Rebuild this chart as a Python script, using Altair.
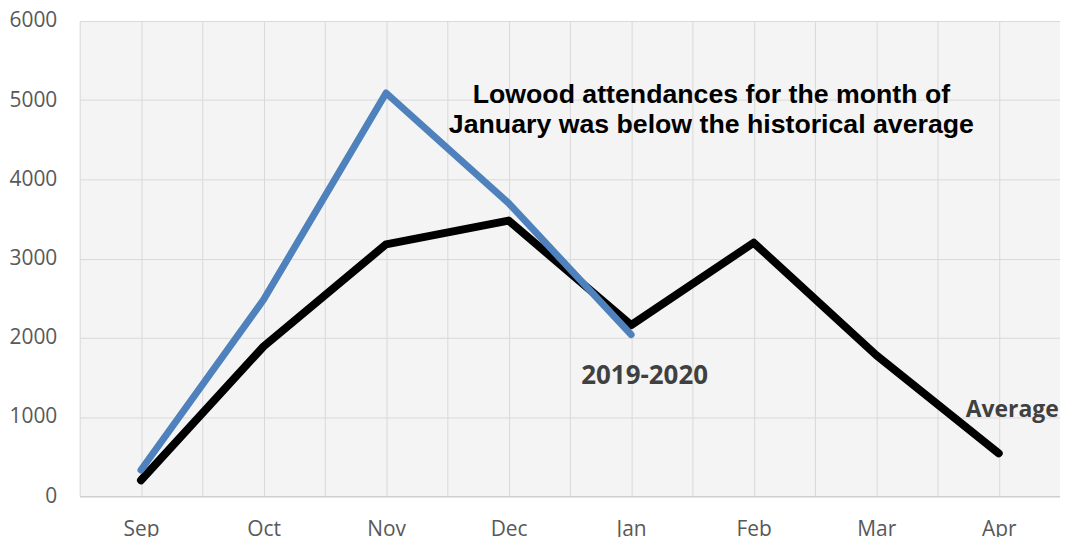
import json
import altair as alt
import pandas as pd

MONTHS = ["Sep", "Oct", "Nov", "Dec", "Jan", "Feb", "Mar", "Apr"]
AVERAGE = [200, 1890, 3180, 3480, 2160, 3200, 1780, 540]
SEASON_2019_2020 = [330, 2480, 5090, 3700, 2040]
Y_TICKS = [0, 1000, 2000, 3000, 4000, 5000, 6000]

avg_df = pd.DataFrame({"idx": list(range(len(AVERAGE))), "month": MONTHS, "value": AVERAGE})
s_df = pd.DataFrame({"idx": list(range(len(SEASON_2019_2020))),
                     "month": MONTHS[:len(SEASON_2019_2020)], "value": SEASON_2019_2020})

TITLE_LINES = ["Lowood attendances for the month of", "January was below the historical average"]
title_df = pd.DataFrame({"idx": [4.655, 4.655], "value": [4969, 4591], "text": TITLE_LINES})
lab_df = pd.DataFrame({"idx": [4.11], "value": [1421], "text": ["2019-2020"]})
avg_lab_df = pd.DataFrame({"idx": [6.73], "value": [994], "text": ["Average"]})

month_arr = json.dumps(MONTHS).replace('"', "'")
label_expr = f"datum.value % 1 == 0 ? {month_arr}[datum.value] : ''"
x_vals = [i / 2 for i in range(-1, 2 * len(MONTHS))]

x_scale = alt.Scale(domain=[-0.5, len(MONTHS) - 0.5], nice=False, zero=False)
y_scale = alt.Scale(domain=[0, 6000], nice=False)

x_axis = alt.Axis(values=x_vals, labelExpr=label_expr, title=None, ticks=False,
                  grid=True, gridColor="#d9d9d9", gridWidth=1,
                  domain=True, domainColor="#d0d0d0", domainWidth=1.5,
                  labelFont="Open Sans", labelFontSize=21, labelColor="#595959",
                  labelPadding=22, labelFlush=False, labelOverlap=False)
y_axis = alt.Axis(values=Y_TICKS, format="d", title=None, ticks=False, domain=False,
                  grid=True, gridColor="#d9d9d9", gridWidth=1,
                  labelFont="Open Sans", labelFontSize=21, labelColor="#595959",
                  labelPadding=23)

base_x = alt.X("idx:Q", scale=x_scale, axis=x_axis)
base_y = alt.Y("value:Q", scale=y_scale, axis=y_axis)

avg_line = alt.Chart(avg_df).mark_line(color="black", strokeWidth=8, strokeCap="round",
                                       strokeJoin="round").encode(x=base_x, y=base_y)
s_line = alt.Chart(s_df).mark_line(color="#4f81bd", strokeWidth=7, strokeCap="round",
                                   strokeJoin="round").encode(x="idx:Q", y="value:Q")

title_txt = alt.Chart(title_df).mark_text(font="Liberation Sans", fontWeight="bold", fontSize=26.8,
                                          color="black", align="center", baseline="alphabetic"
                                          ).encode(x="idx:Q", y="value:Q", text="text:N")
lab_txt = alt.Chart(lab_df).mark_text(font="Open Sans", fontWeight="bold", fontSize=26,
                                      color="#404040", align="center", baseline="alphabetic"
                                      ).encode(x="idx:Q", y="value:Q", text="text:N")
avg_txt = alt.Chart(avg_lab_df).mark_text(font="Open Sans", fontWeight="bold", fontSize=23,
                                          color="#404040", align="left", baseline="alphabetic"
                                          ).encode(x="idx:Q", y="value:Q", text="text:N")

chart = alt.layer(avg_line, s_line, title_txt, lab_txt, avg_txt).properties(
    width=984, height=477,
    autosize=alt.AutoSizeParams(type="none"),
    padding={"left": 72, "top": 12, "right": 0, "bottom": 40},
).configure_view(fill="#f4f4f4", stroke=None)

chart.save("out.html", embed_options={"renderer": "svg", "actions": False})
